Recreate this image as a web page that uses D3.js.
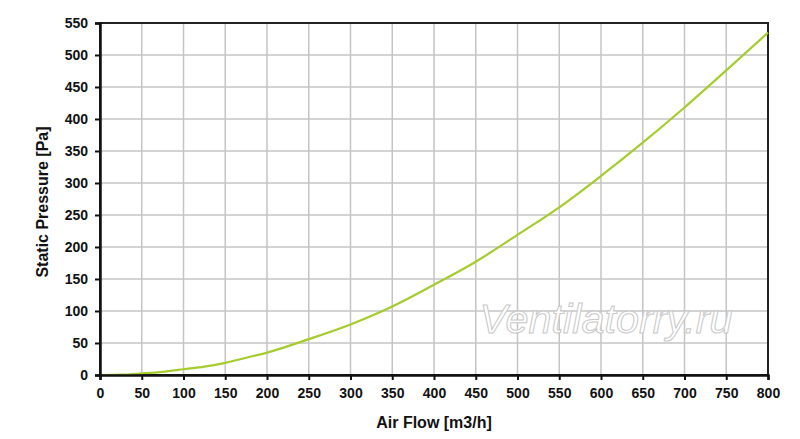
<!DOCTYPE html>
<html>
<head>
<meta charset="utf-8">
<script src="https://cdn.jsdelivr.net/npm/d3@7"></script>
<style>
  body { margin: 0; background: #fff; }
  text { font-family: "Liberation Sans", Arial, sans-serif; }
</style>
</head>
<body>
<div id="chart"></div>
<script>
// fan curve
var airFlow  = [0, 25, 50, 75, 100, 125, 150, 175, 200, 250, 300, 350, 400, 450, 500, 550, 600, 650, 700, 750, 800];
var pressure = [0, 0.5, 2.5, 5, 9, 13, 19, 27, 35, 56, 79, 107, 141, 177, 219, 262, 311, 363, 418, 476, 535];
var xTicks = d3.range(0, 801, 50);
var yTicks = d3.range(0, 551, 50);

var width = 800, height = 439;
margin = {top: 23, right: 32, bottom: 64, left: 100};
var w = width - margin.left - margin.right,
    h = height - margin.top - margin.bottom;

var svg = d3.select("#chart").append("svg")
    .attr("width", width)
    .attr("height", height);

var g = svg.append("g")
    .attr("transform", "translate(" + margin.left + "," + margin.top + ")");

var x = d3.scaleLinear().domain([0, 800]).range([0, w]);
var y = d3.scaleLinear().domain([0, 550]).range([h, 0]);

// grid
g.selectAll(".vgrid")
    .data(xTicks)
    .enter().append("line")
    .attr("class", "vgrid")
    .attr("x1", function(d){ return x(d); })
    .attr("x2", function(d){ return x(d); })
    .attr("y1", 0).attr("y2", h)
    .style("stroke", "#c4c4c4").style("stroke-width", 1.5);

g.selectAll(".hgrid")
    .data(yTicks)
    .enter().append("line")
    .attr("class", "hgrid")
    .attr("y1", function(d){ return y(d); })
    .attr("y2", function(d){ return y(d); })
    .attr("x1", 0).attr("x2", w)
    .style("stroke", "#c4c4c4").style("stroke-width", 1.5);

// watermark
g.append("text")
    .attr("x", x(606)).attr("y", y(65))
    .attr("text-anchor", "middle")
    .attr("textLength", 253)
    .attr("lengthAdjust", "spacingAndGlyphs")
    .style("font-size", "40px")
    .style("font-style", "italic")
    .style("fill", "#ffffff")
    .style("stroke", "#c8c8c8")
    .style("stroke-width", 1)
    .text("Ventilatorry.ru");

// frame
g.append("rect")
    .attr("width", w).attr("height", h)
    .style("fill", "none")
    .style("stroke", "#222").style("stroke-width", 2);

// curve
var line = d3.line()
    .x(function(d, i){ return x(airFlow[i]); })
    .y(function(d){ return y(d); })
    .curve(d3.curveMonotoneX);

g.append("path")
    .datum(pressure)
    .attr("d", line)
    .style("fill", "none")
    .style("stroke", "#a6cc2e")
    .style("stroke-width", 2.2);

// axes
var xAxis = d3.axisBottom(x).tickValues(xTicks).tickSize(5).tickPadding(8);
var yAxis = d3.axisLeft(y).tickValues(yTicks).tickSize(5).tickPadding(7);

g.append("g")
    .attr("class", "axis axis--x")
    .attr("transform", "translate(0," + h + ")")
    .call(xAxis);

g.append("g")
    .attr("class", "axis axis--y")
    .call(yAxis);

svg.selectAll(".axis .domain").style("stroke", "#111").style("stroke-width", 2.5);
svg.selectAll(".axis line").style("stroke", "#111").style("stroke-width", 2);
svg.selectAll(".axis text")
    .style("font-family", "'Liberation Sans', Arial, sans-serif")
    .style("font-size", "14px")
    .style("font-weight", "bold")
    .style("fill", "#111");

// titles
svg.append("text")
    .attr("x", margin.left + w / 2)
    .attr("y", 428)
    .attr("text-anchor", "middle")
    .style("font-size", "16px")
    .style("font-weight", "bold")
    .style("fill", "#111")
    .text("Air Flow [m3/h]");

svg.append("text")
    .attr("transform", "translate(48," + (margin.top + h / 2 + 3) + ") rotate(-90)")
    .attr("text-anchor", "middle")
    .style("font-size", "16px")
    .style("font-weight", "bold")
    .style("fill", "#111")
    .text("Static Pressure [Pa]");
</script>
</body>
</html>
